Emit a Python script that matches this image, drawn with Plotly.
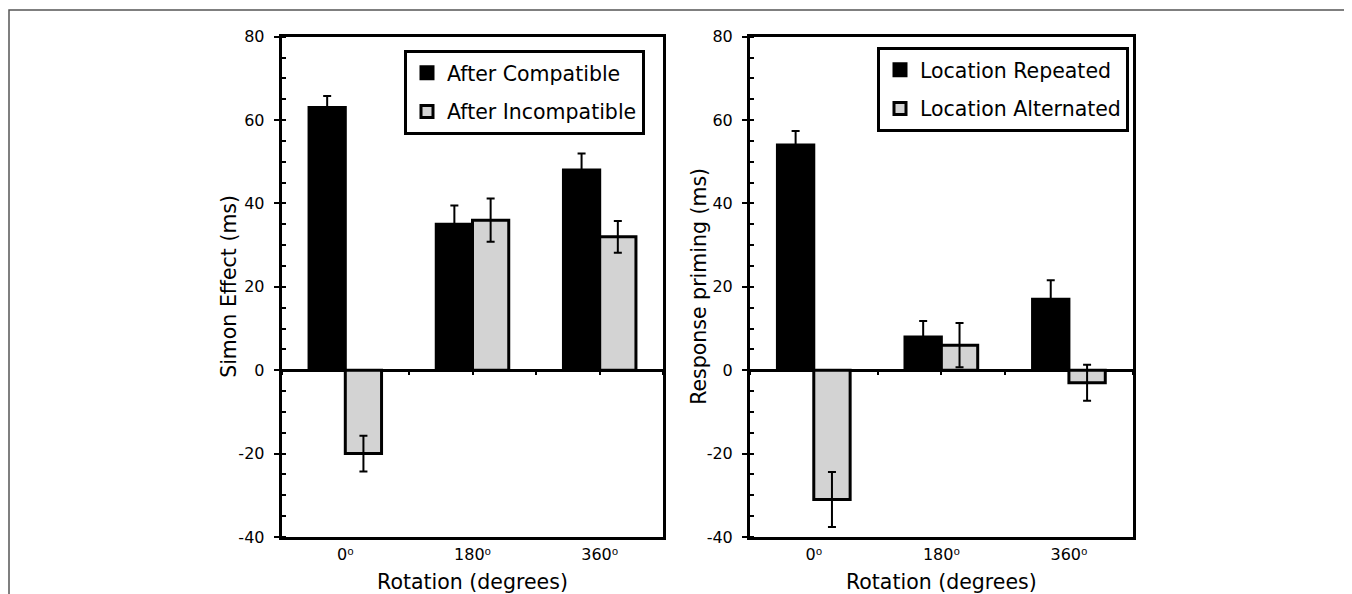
import plotly.graph_objects as go

# ---- data ----
rotations = ["0⁰", "180⁰", "360⁰"]

left_names = ["After Compatible", "After Incompatible"]
left_compatible = [63, 35, 48]
left_compatible_err = [2.8, 4.5, 4.0]
left_incompatible = [-20, 36, 32]
left_incompatible_err = [4.3, 5.2, 3.8]

right_names = ["Location Repeated", "Location Alternated"]
right_repeated = [54, 8, 17]
right_repeated_err = [3.4, 3.8, 4.6]
right_alternated = [-31, 6, -3]
right_alternated_err = [6.6, 5.3, 4.3]

y_ticks = [-40, -20, 0, 20, 40, 60, 80]
y_tick_labels = ["-40", "-20", "0", "20", "40", "60", "80"]
y_range = [-40, 80]

left_y_title = "Simon Effect (ms)"
right_y_title = "Response priming (ms)"
x_title = "Rotation (degrees)"

FONT = "DejaVu Sans, Verdana, sans-serif"
OFF = 8                      # page body margin of the browser
W, H = 1352 - OFF, 594 - OFF
GRAY = "#d3d3d3"


def px(x):
    return (x - OFF) / W


def py(y):
    return 1 - (y - OFF) / H


# layout geometry (reference px)
ydom = [py(537.0), py(36.7)]
xdom1 = [px(281.7), px(663.3)]
xdom2 = [px(750.0), px(1132.7)]
zero_pos = ydom[0] + (0 - y_range[0]) / (y_range[1] - y_range[0]) * (ydom[1] - ydom[0])

fig = go.Figure()


def add_bar(name, vals, errs, color, xa, ya, legend, group):
    fig.add_trace(go.Bar(
        x=rotations, y=vals, name=name,
        marker=dict(color=color, line=dict(color="black", width=3)),
        error_y=dict(type="data", array=errs, visible=True,
                     color="black", thickness=2, width=4),
        xaxis=xa, yaxis=ya, legend=legend, legendgroup=group,
    ))


add_bar(left_names[0], left_compatible, left_compatible_err, "black", "x", "y", "legend", "a")
add_bar(left_names[1], left_incompatible, left_incompatible_err, GRAY, "x", "y", "legend", "b")
add_bar(right_names[0], right_repeated, right_repeated_err, "black", "x2", "y2", "legend2", "c")
add_bar(right_names[1], right_alternated, right_alternated_err, GRAY, "x2", "y2", "legend2", "d")
# empty traces so the zero-line tick axes are rendered
fig.add_trace(go.Scatter(x=[], y=[], xaxis="x3", yaxis="y", showlegend=False))
fig.add_trace(go.Scatter(x=[], y=[], xaxis="x4", yaxis="y2", showlegend=False))

TITLE_FONT = dict(size=20.5, color="black", family=FONT)
TICK_FONT = dict(size=16, color="black", family=FONT)

xaxis_common = dict(
    showline=True, linewidth=3, linecolor="black", mirror=True,
    ticks="", showgrid=False, zeroline=False, automargin=False,
    tickfont=TICK_FONT, ticklabelstandoff=1,
    title=dict(text=x_title, font=TITLE_FONT, standoff=15),
)
yaxis_common = dict(
    range=y_range, tickvals=y_ticks, ticktext=y_tick_labels,
    showline=True, linewidth=3, linecolor="black", mirror=True,
    ticks="outside", ticklen=5, tickwidth=2, tickcolor="black",
    minor=dict(ticks="inside", dtick=5, ticklen=4, tickwidth=2, tickcolor="black"),
    showgrid=False, zeroline=True, zerolinewidth=3, zerolinecolor="black",
    tickfont=TICK_FONT, ticklabelstandoff=6, automargin=False,
)
zero_tick_axis = dict(
    anchor="free", position=zero_pos, side="bottom",
    range=[-0.5, 2.5], dtick=0.5, tick0=-0.5,
    ticks="outside", ticklen=4, tickwidth=2, tickcolor="black",
    showticklabels=False, showline=False, showgrid=False, zeroline=False,
    automargin=False,
)

legend_common = dict(
    bgcolor="white", bordercolor="black", borderwidth=3,
    font=dict(size=20.5, color="black", family=FONT),
    tracegroupgap=9, xanchor="left", yanchor="top",
    itemclick=False, itemdoubleclick=False,
)

ymid = (ydom[0] + ydom[1]) / 2

fig.update_layout(
    template="none",
    width=W, height=H,
    margin=dict(l=0, r=0, t=0, b=0, pad=0),
    paper_bgcolor="white", plot_bgcolor="white",
    font=dict(family=FONT, color="black"),
    barmode="group", bargap=0.43, bargroupgap=0,
    xaxis=dict(domain=xdom1, anchor="y", **xaxis_common),
    yaxis=dict(domain=ydom, anchor="x", **yaxis_common),
    xaxis2=dict(domain=xdom2, anchor="y2", **xaxis_common),
    yaxis2=dict(domain=ydom, anchor="x2", **yaxis_common),
    xaxis3=dict(domain=xdom1, overlaying="x", **zero_tick_axis),
    xaxis4=dict(domain=xdom2, overlaying="x2", **zero_tick_axis),
    legend=dict(x=px(404), y=py(50), **legend_common),
    legend2=dict(x=px(877), y=py(47), **legend_common),
    showlegend=True,
    annotations=[
        dict(text=left_y_title, textangle=-90, xref="paper", yref="paper",
             x=px(229), y=ymid, xanchor="center", yanchor="middle",
             showarrow=False, font=TITLE_FONT),
        dict(text=right_y_title, textangle=-90, xref="paper", yref="paper",
             x=px(699), y=ymid, xanchor="center", yanchor="middle",
             showarrow=False, font=TITLE_FONT),
    ],
    shapes=[dict(type="rect", xref="paper", yref="paper",
                 x0=px(9), x1=px(1347), y0=-0.1, y1=py(10),
                 line=dict(color="#555555", width=1.5), layer="below")],
)

fig.write_html("out.html")
